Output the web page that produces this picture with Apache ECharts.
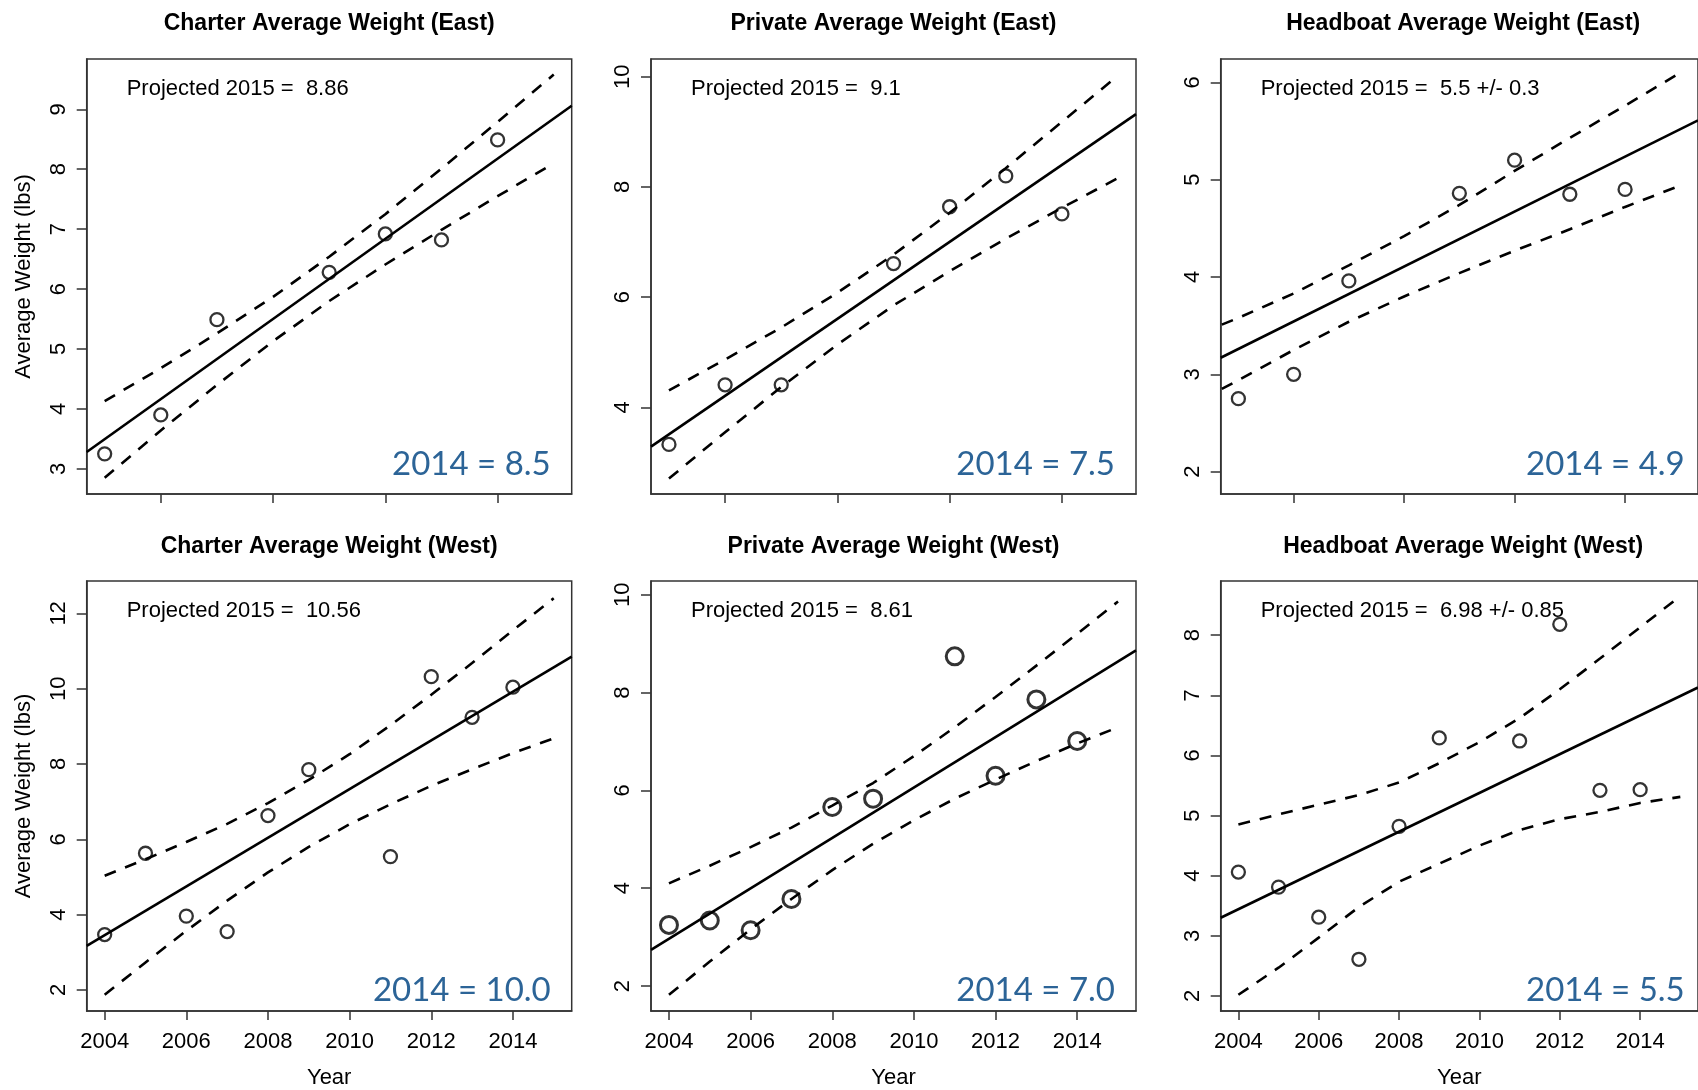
<!DOCTYPE html>
<html><head><meta charset="utf-8">
<script src="https://cdn.jsdelivr.net/npm/echarts@6/dist/echarts.min.js"></script>
<style>html,body{margin:0;padding:0;background:#fff}#c{width:1698px;height:1090px}</style>
</head><body><div id="c"></div>
<script>
// ---------------- DATA ----------------
const panelTitles = ['Charter Average Weight (East)','Private Average Weight (East)','Headboat Average Weight (East)',
                     'Charter Average Weight (West)','Private Average Weight (West)','Headboat Average Weight (West)'];
const projectedText = ['8.86','9.1','5.5 +/- 0.3','10.56','8.61','6.98 +/- 0.85'];
const value2014Text = ['8.5','7.5','4.9','10.0','7.0','5.5'];

const eastYears = [2007,2008,2009,2011,2012,2013,2014];
const westYears = [2004,2005,2006,2007,2008,2009,2011,2012,2013,2014];
const eastBandYears = [2007,2008,2009,2010,2011,2012,2013,2014,2015];
const headEastBandYears = [2006.7,2007,2008,2009,2010,2011,2012,2013,2014,2015];
const westBandYears = [2004,2005,2006,2007,2008,2009,2010,2011,2012,2013,2014,2015];

const charterEast = [3.25,3.90,5.49,6.28,6.92,6.82,8.49];
const privateEast = [3.33,4.41,4.41,6.61,7.64,8.20,7.51];
const headboatEast = [2.75,3.00,3.96,4.86,5.20,4.85,4.90];
const charterWest = [3.47,5.63,3.96,3.55,6.63,7.85,5.54,10.32,9.24,10.04];
const privateWest = [3.25,3.34,3.14,3.78,5.66,5.83,8.74,6.30,7.86,7.01];
const headboatWest = [4.06,3.81,3.31,2.61,4.82,6.29,6.24,8.18,5.42,5.43];

// regression line end points [year, value]
const charterEastFit = [[2006.68,3.28],[2015.32,9.06]];
const privateEastFit = [[2006.68,3.29],[2015.32,9.32]];
const headboatEastFit = [[2006.68,3.17],[2015.32,5.61]];
const charterWestFit = [[2003.56,3.17],[2015.44,10.85]];
const privateWestFit = [[2003.56,2.74],[2015.44,8.86]];
const headboatWestFit = [[2003.56,3.30],[2015.44,7.13]];

// confidence bands
const charterEastUpper = [4.13,4.68,5.26,5.87,6.54,7.25,8.01,8.79,9.58];
const charterEastLower = [2.85,3.64,4.40,5.13,5.80,6.41,6.99,7.55,8.10];
const privateEastUpper = [4.31,4.87,5.45,6.08,6.77,7.53,8.34,9.18,10.02];
const privateEastLower = [2.71,3.55,4.37,5.14,5.85,6.47,7.06,7.62,8.16];
const headboatEastUpper = [3.51,3.58,3.83,4.12,4.42,4.74,5.09,5.43,5.76,6.10];
const headboatEastLower = [2.85,2.94,3.25,3.54,3.80,4.04,4.27,4.49,4.72,4.94];
const charterWestUpper = [5.03,5.47,5.93,6.41,6.96,7.58,8.26,9.03,9.84,10.68,11.55,12.40];
const charterWestLower = [1.87,2.73,3.57,4.37,5.12,5.80,6.40,6.93,7.42,7.86,8.29,8.68];
const privateWestUpper = [4.10,4.46,4.84,5.24,5.69,6.15,6.70,7.29,7.91,8.55,9.20,9.86];
const privateWestLower = [1.82,2.50,3.16,3.78,4.37,4.91,5.39,5.83,6.22,6.60,6.96,7.29];
const headboatWestUpper = [4.85,5.02,5.18,5.34,5.55,5.87,6.22,6.62,7.10,7.61,8.13,8.65];
const headboatWestLower = [2.02,2.47,2.97,3.48,3.90,4.20,4.50,4.76,4.94,5.06,5.21,5.31];

// axis ranges and tick values
const eastXRange = [2006.68, 2015.32];
const westXRange = [2003.56, 2015.44];
const eastXTicks = [2008,2010,2012,2014];
const westXTicks = [2004,2006,2008,2010,2012,2014];
const yRanges = [[2.58,9.84],[2.43,10.32],[1.77,6.24],[1.44,12.86],[1.49,10.28],[1.75,8.90]];
const yTicks = [[3,4,5,6,7,8,9],[4,6,8,10],[2,3,4,5,6],[2,4,6,8,10,12],[2,4,6,8,10],[2,3,4,5,6,7,8]];

// ---------------- BUILD ----------------
const panels = [
  {obsX:eastYears, obs:charterEast, fit:charterEastFit, bx:eastBandYears, up:charterEastUpper, lo:charterEastLower},
  {obsX:eastYears, obs:privateEast, fit:privateEastFit, bx:eastBandYears, up:privateEastUpper, lo:privateEastLower},
  {obsX:eastYears, obs:headboatEast, fit:headboatEastFit, bx:headEastBandYears, up:headboatEastUpper, lo:headboatEastLower},
  {obsX:westYears, obs:charterWest, fit:charterWestFit, bx:westBandYears, up:charterWestUpper, lo:charterWestLower},
  {obsX:westYears, obs:privateWest, fit:privateWestFit, bx:westBandYears, up:privateWestUpper, lo:privateWestLower},
  {obsX:westYears, obs:headboatWest, fit:headboatWestFit, bx:westBandYears, up:headboatWestUpper, lo:headboatWestLower}
];
const zip = (xs, ys) => xs.map((x,i)=>[x, ys[i]]);

const COL_LEFT = [86.7, 651, 1220.7];
const ROW_TOP = [59, 581];
const GW = 485, GH = 435;
const FONT = '"Liberation Sans", Arial, sans-serif';

const grids = [], xAxes = [], yAxes = [], series = [], graphics = [];
panels.forEach((p, i) => {
  const r = Math.floor(i/3), c = i%3;
  const bottom = r === 1, left = c === 0;
  grids.push({left: COL_LEFT[c], top: ROW_TOP[r], width: GW, height: GH, show: true,
              borderColor: '#333', borderWidth: 1.5, backgroundColor: 'transparent', containLabel: false});
  const xr = bottom ? westXRange : eastXRange;
  const xt = bottom ? westXTicks : eastXTicks;
  xAxes.push({type:'value', gridIndex:i, min:xr[0], max:xr[1],
    axisLine:{show:true, onZero:false, lineStyle:{color:'#333', width:1.5}},
    splitLine:{show:false},
    axisTick:{show:true, length:9, lineStyle:{color:'#333', width:1.5}, customValues: xt},
    axisLabel:{show: bottom, customValues: xt, margin:20, fontSize:22, color:'#000', fontFamily:FONT,
               formatter: v => String(v)},
    name: bottom ? 'Year' : '', nameLocation:'middle', nameGap:56,
    nameTextStyle:{fontSize:22, color:'#000', fontFamily:FONT}
  });
  yAxes.push({type:'value', gridIndex:i, min:yRanges[i][0], max:yRanges[i][1],
    axisLine:{show:true, onZero:false, lineStyle:{color:'#333', width:1.5}},
    splitLine:{show:false},
    axisTick:{show:true, length:10, lineStyle:{color:'#333', width:1.5}, customValues: yTicks[i]},
    axisLabel:{show:true, customValues: yTicks[i], rotate:90, margin:17, fontSize:22, color:'#000', fontFamily:FONT,
               formatter: v => String(v)},
    name: left ? 'Average Weight (lbs)' : '', nameLocation:'middle', nameGap:52, nameRotate:90,
    nameTextStyle:{fontSize:22, color:'#000', fontFamily:FONT}
  });
  const big = (i === 4);
  series.push({type:'line', xAxisIndex:i, yAxisIndex:i, data:p.fit, symbol:'none', silent:true,
               lineStyle:{color:'#000', width:2.6}, animation:false, z:2});
  series.push({type:'line', xAxisIndex:i, yAxisIndex:i, data:zip(p.bx, p.up), symbol:'none', silent:true,
               lineStyle:{color:'#000', width:2.6, type:[12,10]}, animation:false, z:2});
  series.push({type:'line', xAxisIndex:i, yAxisIndex:i, data:zip(p.bx, p.lo), symbol:'none', silent:true,
               lineStyle:{color:'#000', width:2.6, type:[12,10]}, animation:false, z:2});
  series.push({type:'scatter', xAxisIndex:i, yAxisIndex:i, data:zip(p.obsX, p.obs), symbol:'circle',
               symbolSize: big ? 17 : 13, silent:true, animation:false, z:3,
               itemStyle:{color:'rgba(0,0,0,0)', borderColor:'#000', borderWidth: big ? 3 : 2.3}});
  const cx = COL_LEFT[c] + GW/2;
  graphics.push({type:'text', x: cx, y: r === 0 ? 24 : 547,
    style:{text: panelTitles[i], font: 'bold 23px ' + FONT, fill:'#000',
           align:'center', verticalAlign:'middle', textAlign:'center', textVerticalAlign:'middle'}});
  graphics.push({type:'text', x: COL_LEFT[c] + 40, y: ROW_TOP[r] + 30,
    style:{text: 'Projected 2015 =  ' + projectedText[i], font: '22px ' + FONT, fill:'#000',
           align:'left', verticalAlign:'middle', textAlign:'left', textVerticalAlign:'middle'}});
  graphics.push({type:'text', x: COL_LEFT[c] + GW - 21, y: r === 0 ? 464 : 990,
    style:{text: '2014 = ' + value2014Text[i], font: '33px Lato, "Open Sans", sans-serif', fill:'#2C6497',
           align:'right', verticalAlign:'middle', textAlign:'right', textVerticalAlign:'middle'}});
});

const chart = echarts.init(document.getElementById('c'), null, {renderer:'canvas'});
chart.setOption({
  animation:false,
  backgroundColor:'#fff',
  grid: grids, xAxis: xAxes, yAxis: yAxes, series: series,
  graphic: {elements: graphics}
});
</script>
</body></html>
